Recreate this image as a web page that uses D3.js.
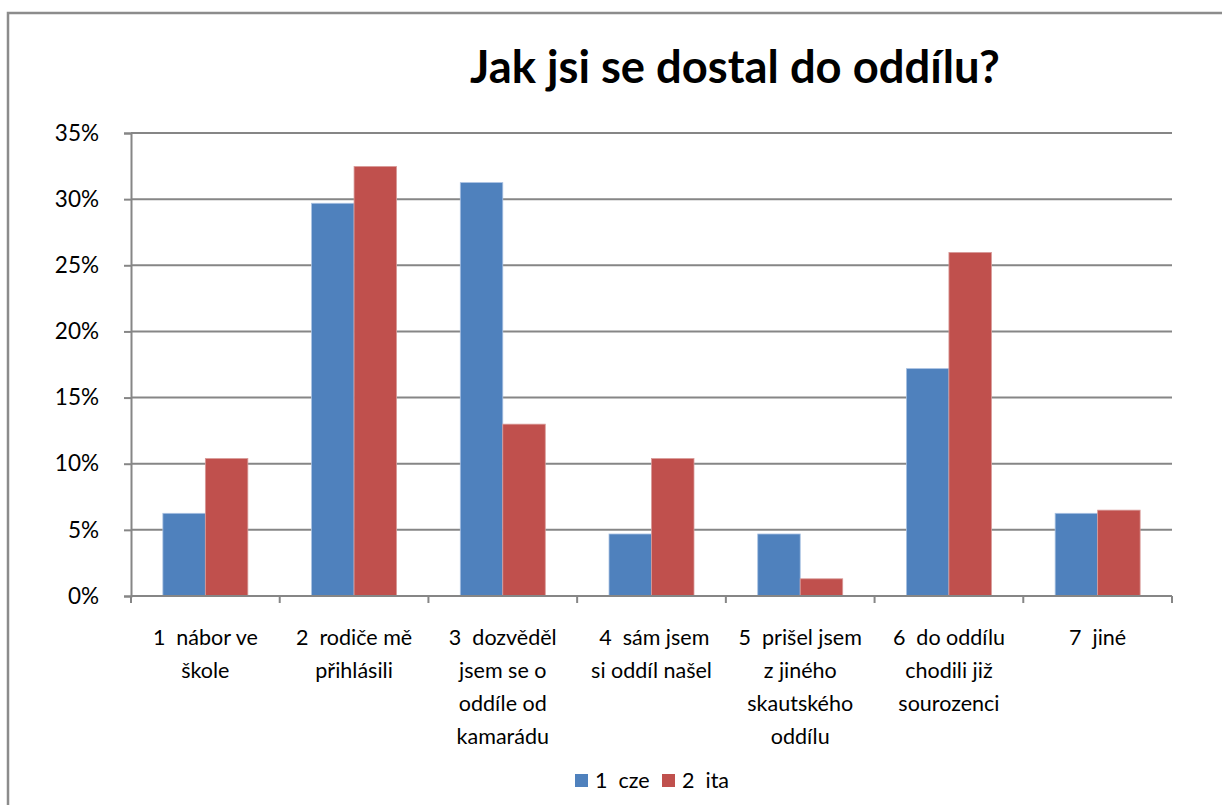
<!DOCTYPE html>
<html><head><meta charset="utf-8">
<script src="https://cdn.jsdelivr.net/npm/d3@7"></script>
<style>body{margin:0;background:#fff}svg{display:block}text{font-family:Lato,"Open Sans",sans-serif;fill:#000;white-space:pre}</style>
</head><body>
<script>
const title = "Jak jsi se dostal do oddílu?";
const categories = ["1  nábor ve škole","2  rodiče mě přihlásili","3  dozvěděl jsem se o oddíle od kamarádu","4  sám jsem si oddíl našel","5  prišel jsem z jiného skautského oddílu","6  do oddílu chodili již sourozenci","7  jiné"];
const categoryLines = [["1  nábor ve","škole"],["2  rodiče mě","přihlásili"],["3  dozvěděl","jsem se o","oddíle od","kamarádu"],[" 4  sám jsem","si oddíl našel"],["5  prišel jsem","z jiného","skautského","oddílu"],["6  do oddílu","chodili již","sourozenci"],["7  jiné"]];
const seriesNames = ["1  cze","2  ita"];
const cze = [0.0625,0.296875,0.3125,0.046875,0.046875,0.171875,0.0625];
const ita = [0.1039,0.3247,0.1299,0.1039,0.0130,0.2597,0.0649];
const yTicks = [0,0.05,0.10,0.15,0.20,0.25,0.30,0.35];
const colors = ["#4F81BD","#C0504D"];

const W=1222,H=805;
const svg=d3.select("body").append("svg").attr("width",W).attr("height",H);
svg.append("rect").attr("x",8).attr("y",13).attr("width",W-8+10).attr("height",H-13+10)
  .attr("fill","#fff").attr("stroke","#8c8c8c").attr("stroke-width",2.5);

const L=131,R=1172,T=133,B=596;
const x=d3.scaleBand().domain(categories).range([L,R]).paddingInner(1.5/3.5).paddingOuter(0.75/3.5);
const xs=d3.scaleBand().domain(seriesNames).range([0,x.bandwidth()]);
const y=d3.scaleLinear().domain([0,0.35]).range([B,T]);

svg.append("g").selectAll("line").data(yTicks).join("line")
  .attr("x1",L).attr("x2",R).attr("y1",d=>y(d)).attr("y2",d=>y(d))
  .attr("stroke","#868686").attr("stroke-width",2);

const ya=svg.append("g").attr("transform",`translate(${L},0)`)
  .call(d3.axisLeft(y).tickValues(yTicks).tickFormat(d3.format(".0%")).tickSize(7).tickPadding(25));
ya.select(".domain").attr("stroke","#868686").attr("stroke-width",2);
ya.selectAll(".tick line").attr("stroke","#868686").attr("stroke-width",2);
ya.selectAll(".tick text").style("font-size","22.5px").style("font-family","Lato,sans-serif").attr("fill","#000");

const data=categories.map((c,i)=>({c,v:[cze[i],ita[i]]}));
const g=svg.append("g").selectAll("g").data(data).join("g").attr("transform",d=>`translate(${x(d.c)},0)`);
g.selectAll("rect").data(d=>d.v.map((v,j)=>({s:seriesNames[j],v,j}))).join("rect")
  .attr("x",d=>xs(d.s)).attr("width",xs.bandwidth())
  .attr("y",d=>y(d.v)).attr("height",d=>B-y(d.v))
  .attr("fill",d=>colors[d.j]).attr("stroke",d=>d.j?"#d89a98":"#a9c1e2").attr("stroke-width",0.8);

const edges=d3.range(categories.length+1).map(i=>L+i*(R-L)/categories.length);
svg.append("line").attr("x1",L).attr("x2",R).attr("y1",B).attr("y2",B).attr("stroke","#868686").attr("stroke-width",2);
svg.append("g").selectAll("line").data(edges).join("line")
  .attr("x1",d=>d).attr("x2",d=>d).attr("y1",B).attr("y2",B+7).attr("stroke","#868686").attr("stroke-width",2);

const lab=svg.append("g").selectAll("text").data(categories).join("text")
  .attr("x",d=>x(d)+x.bandwidth()/2).attr("y",645).attr("text-anchor","middle").style("font-size","21.5px");
lab.selectAll("tspan").data((d,i)=>categoryLines[i]).join("tspan")
  .attr("x",function(){return d3.select(this.parentNode).attr("x");})
  .attr("dy",(d,i)=>i?33:0).text(d=>d);

const t=svg.append("text").attr("x",735).attr("y",83).attr("text-anchor","middle")
  .style("font-size","34px").style("font-weight","bold").text(title);
const tw=t.node().getComputedTextLength();
t.style("font-size",(34*530/tw)+"px");

const lg=svg.append("g");
const lx=[575,662];
seriesNames.forEach((s,i)=>{
  lg.append("rect").attr("x",lx[i]).attr("y",774).attr("width",13).attr("height",13).attr("fill",colors[i]);
  lg.append("text").attr("x",lx[i]+20).attr("y",788).style("font-size","21.5px").text(s);
});
</script>
</body></html>
